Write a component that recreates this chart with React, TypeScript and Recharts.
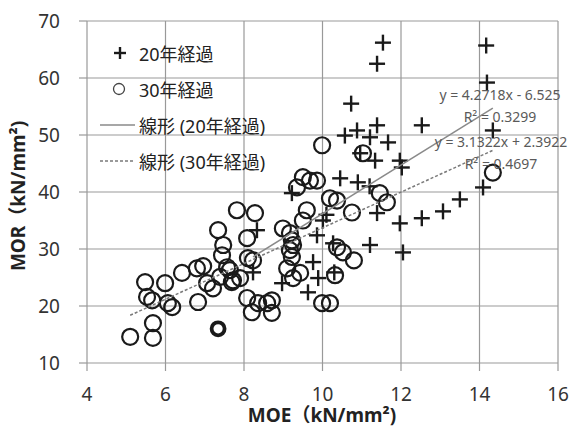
import React from 'react';
import {
    ScatterChart,
    Scatter,
    XAxis,
    YAxis,
    CartesianGrid,
} from 'recharts';

// 20年経過 (plus markers)
const aged20 = [
    { x: 11.54, y: 66.2 }, { x: 11.39, y: 62.5 }, { x: 14.17, y: 65.7 }, { x: 14.19, y: 59.2 },
    { x: 10.73, y: 55.5 }, { x: 14.34, y: 50.8 }, { x: 12.53, y: 51.7 }, { x: 11.39, y: 51.7 },
    { x: 10.57, y: 49.9 }, { x: 10.88, y: 50.8 }, { x: 11.21, y: 49.6 }, { x: 11.67, y: 48.7 },
    { x: 11.97, y: 45.5 }, { x: 12.02, y: 44.3 }, { x: 10.96, y: 46.8 }, { x: 11.34, y: 45.5 },
    { x: 10.45, y: 42.4 }, { x: 10.9, y: 41.7 }, { x: 11.2, y: 41.0 }, { x: 14.09, y: 40.8 },
    { x: 13.5, y: 38.7 }, { x: 13.07, y: 36.6 }, { x: 12.53, y: 35.4 }, { x: 11.97, y: 34.5 },
    { x: 12.05, y: 29.4 }, { x: 11.21, y: 30.7 }, { x: 11.39, y: 36.3 }, { x: 10.01, y: 35.0 },
    { x: 10.1, y: 36.0 }, { x: 9.86, y: 32.4 }, { x: 9.76, y: 27.7 }, { x: 9.89, y: 24.9 },
    { x: 9.63, y: 22.4 }, { x: 10.27, y: 31.0 }, { x: 10.3, y: 25.9 }, { x: 9.22, y: 39.8 },
    { x: 8.33, y: 33.3 }, { x: 8.23, y: 25.9 }, { x: 8.97, y: 24.0 },
];

// 30年経過 (open circles)
const aged30 = [
    { x: 5.1, y: 14.6 }, { x: 5.68, y: 14.4 }, { x: 5.68, y: 17.0 }, { x: 5.48, y: 24.2 },
    { x: 5.53, y: 21.6 }, { x: 5.66, y: 21.0 }, { x: 5.99, y: 24.0 }, { x: 6.06, y: 20.5 },
    { x: 6.17, y: 19.8 }, { x: 6.42, y: 25.8 }, { x: 6.8, y: 26.6 }, { x: 6.96, y: 27.0 },
    { x: 6.83, y: 20.7 }, { x: 7.06, y: 24.0 }, { x: 7.21, y: 23.1 }, { x: 7.34, y: 33.3 },
    { x: 7.47, y: 30.7 }, { x: 7.44, y: 28.9 }, { x: 7.57, y: 26.8 }, { x: 7.39, y: 25.1 },
    { x: 7.72, y: 24.5 }, { x: 7.82, y: 36.8 }, { x: 8.28, y: 36.3 }, { x: 8.08, y: 31.9 },
    { x: 8.1, y: 28.4 }, { x: 8.23, y: 28.0 }, { x: 7.64, y: 26.3 }, { x: 8.08, y: 21.4 },
    { x: 8.2, y: 18.9 }, { x: 8.36, y: 20.5 }, { x: 8.59, y: 20.5 }, { x: 8.71, y: 21.0 },
    { x: 8.71, y: 18.8 }, { x: 7.69, y: 24.2 }, { x: 7.9, y: 24.9 }, { x: 8.99, y: 33.6 },
    { x: 9.17, y: 32.8 }, { x: 9.25, y: 30.7 }, { x: 9.22, y: 28.6 }, { x: 9.1, y: 26.6 },
    { x: 9.25, y: 24.9 }, { x: 9.99, y: 48.2 }, { x: 9.5, y: 42.6 }, { x: 9.68, y: 42.0 },
    { x: 9.86, y: 42.0 }, { x: 9.35, y: 40.8 }, { x: 10.19, y: 38.9 }, { x: 10.37, y: 38.5 },
    { x: 10.75, y: 36.4 }, { x: 11.46, y: 39.8 }, { x: 11.64, y: 38.2 }, { x: 9.6, y: 36.8 },
    { x: 9.5, y: 35.0 }, { x: 10.37, y: 30.3 }, { x: 10.52, y: 29.4 }, { x: 10.8, y: 28.0 },
    { x: 10.32, y: 25.4 }, { x: 9.99, y: 20.5 }, { x: 10.19, y: 20.5 }, { x: 9.43, y: 25.8 },
    { x: 14.34, y: 43.4 }, { x: 11.03, y: 46.8 }, { x: 9.22, y: 31.5 }, { x: 9.17, y: 29.8 },
];

// one circle printed heavier than the rest
const aged30Bold = [{ x: 7.34, y: 16.0 }];

// linear fits, end points at the data range
const trend20 = [{ x: 8.23, y: 28.63 }, { x: 14.34, y: 54.73 }];
const trend30 = [{ x: 5.1, y: 18.37 }, { x: 14.34, y: 47.31 }];

const xTicks = [4, 6, 8, 10, 12, 14, 16];
const yTicks = [10, 20, 30, 40, 50, 60, 70];

const FONT = '"Noto Sans", "Noto Sans CJK JP", sans-serif';
const INK = '#1a1a1a';
const GRID = '#999999';

const PlusShape = (props: any) => {
    const { cx, cy } = props;
    return (
        <g>
            <line x1={cx - 8} y1={cy} x2={cx + 8} y2={cy} stroke={INK} strokeWidth={2.4} />
            <line x1={cx} y1={cy - 8} x2={cx} y2={cy + 8} stroke={INK} strokeWidth={2.4} />
        </g>
    );
};

const CircleShape = (props: any) => (
    <circle cx={props.cx} cy={props.cy} r={8} fill="none" stroke={INK} strokeWidth={2.2} />
);

const BoldCircleShape = (props: any) => (
    <circle cx={props.cx} cy={props.cy} r={6.5} fill="none" stroke={INK} strokeWidth={3.8} />
);

const NoShape = () => <g />;

// tick mark hanging outside the plot + the number
const XTick = (props: any) => {
    const { x, y, payload } = props;
    return (
        <g>
            <line x1={x} y1={y} x2={x} y2={y + 8} stroke={GRID} strokeWidth={1.2} />
            <text x={x} y={y + 38} textAnchor="middle" fontSize={19} fill="#333" fontFamily={FONT}>
                {payload.value}
            </text>
        </g>
    );
};

const YTick = (props: any) => {
    const { x, y, payload } = props;
    return (
        <g>
            <line x1={x - 8} y1={y} x2={x} y2={y} stroke={GRID} strokeWidth={1.2} />
            <text x={x - 27} y={y + 7} textAnchor="end" fontSize={19} fill="#333" fontFamily={FONT}>
                {payload.value}
            </text>
        </g>
    );
};

const ChartLegend = () => {
    const row: React.CSSProperties = { display: 'flex', alignItems: 'center', height: 36 };
    const label: React.CSSProperties = { fontSize: 18, color: '#222', marginLeft: 3 };
    return (
        <div style={{ position: 'absolute', left: 100, top: 35, fontFamily: FONT }}>
            <div style={row}>
                <svg width={36} height={20}>
                    <line x1={14} y1={10} x2={26} y2={10} stroke={INK} strokeWidth={2.4} />
                    <line x1={20} y1={4} x2={20} y2={16} stroke={INK} strokeWidth={2.4} />
                </svg>
                <span style={label}>20年経過</span>
            </div>
            <div style={row}>
                <svg width={36} height={20}>
                    <circle cx={19} cy={10} r={5.5} fill="none" stroke="#444" strokeWidth={1.3} />
                </svg>
                <span style={label}>30年経過</span>
            </div>
            <div style={row}>
                <svg width={36} height={20}>
                    <line x1={0} y1={10} x2={35} y2={10} stroke="#8a8a8a" strokeWidth={1.5} />
                </svg>
                <span style={label}>線形 (20年経過)</span>
            </div>
            <div style={row}>
                <svg width={36} height={20}>
                    <line x1={0} y1={10} x2={35} y2={10} stroke="#7a7a7a" strokeWidth={1.5} strokeDasharray="3 2" />
                </svg>
                <span style={label}>線形 (30年経過)</span>
            </div>
        </div>
    );
};

const eqStyle: React.CSSProperties = {
    position: 'absolute',
    fontSize: 14,
    color: '#5a5a5a',
    textAlign: 'center',
    lineHeight: '22px',
    whiteSpace: 'nowrap',
};

export default function App() {
    return (
        <div style={{ position: 'absolute', left: 0, top: 0, width: 575, height: 428, background: '#fff', fontFamily: FONT }}>
            <ScatterChart width={575} height={428} margin={{ top: 21, right: 17, bottom: 0, left: 0 }} style={{ fontFamily: FONT }}>
                <CartesianGrid stroke={GRID} strokeWidth={1.2} />
                <XAxis
                    type="number"
                    dataKey="x"
                    domain={[4, 16]}
                    ticks={xTicks}
                    height={65}
                    axisLine={false}
                    tickLine={false}
                    tickSize={0}
                    tickMargin={0}
                    tick={<XTick />}
                    label={{
                        content: () => (
                            <text x={322} y={422} textAnchor="middle" fontSize={19} fontWeight="bold" fill="#222" fontFamily={FONT}>
                                MOE（kN/mm²)
                            </text>
                        ),
                    }}
                />
                <YAxis
                    type="number"
                    dataKey="y"
                    domain={[10, 70]}
                    ticks={yTicks}
                    width={87}
                    axisLine={false}
                    tickLine={false}
                    tickSize={0}
                    tickMargin={0}
                    tick={<YTick />}
                    label={{
                        content: () => (
                            <text x={25} y={196} transform="rotate(-90 25 196)" textAnchor="middle" fontSize={19} fontWeight="bold" fill="#222" fontFamily={FONT}>
                                MOR（kN/mm²)
                            </text>
                        ),
                    }}
                />
                <Scatter name="20年経過" data={aged20} shape={PlusShape} isAnimationActive={false} />
                <Scatter name="30年経過" data={aged30} shape={CircleShape} isAnimationActive={false} />
                <Scatter name="30年経過 bold" data={aged30Bold} shape={BoldCircleShape} isAnimationActive={false} />
                <Scatter
                    name="線形 (20年経過)"
                    data={trend20}
                    shape={NoShape}
                    line={{ stroke: '#8a8a8a', strokeWidth: 1.5 }}
                    isAnimationActive={false}
                />
                <Scatter
                    name="線形 (30年経過)"
                    data={trend30}
                    shape={NoShape}
                    line={{ stroke: '#7a7a7a', strokeWidth: 1.5, strokeDasharray: '3 2' }}
                    isAnimationActive={false}
                />
            </ScatterChart>
            <ChartLegend />
            <div style={{ ...eqStyle, left: 430, top: 84, width: 140 }}>
                y = 4.2718x - 6.525
                <br />
                R² = 0.3299
            </div>
            <div style={{ ...eqStyle, left: 426, top: 131, width: 150 }}>
                y = 3.1322x + 2.3922
                <br />
                R² = 0.4697
            </div>
        </div>
    );
}
